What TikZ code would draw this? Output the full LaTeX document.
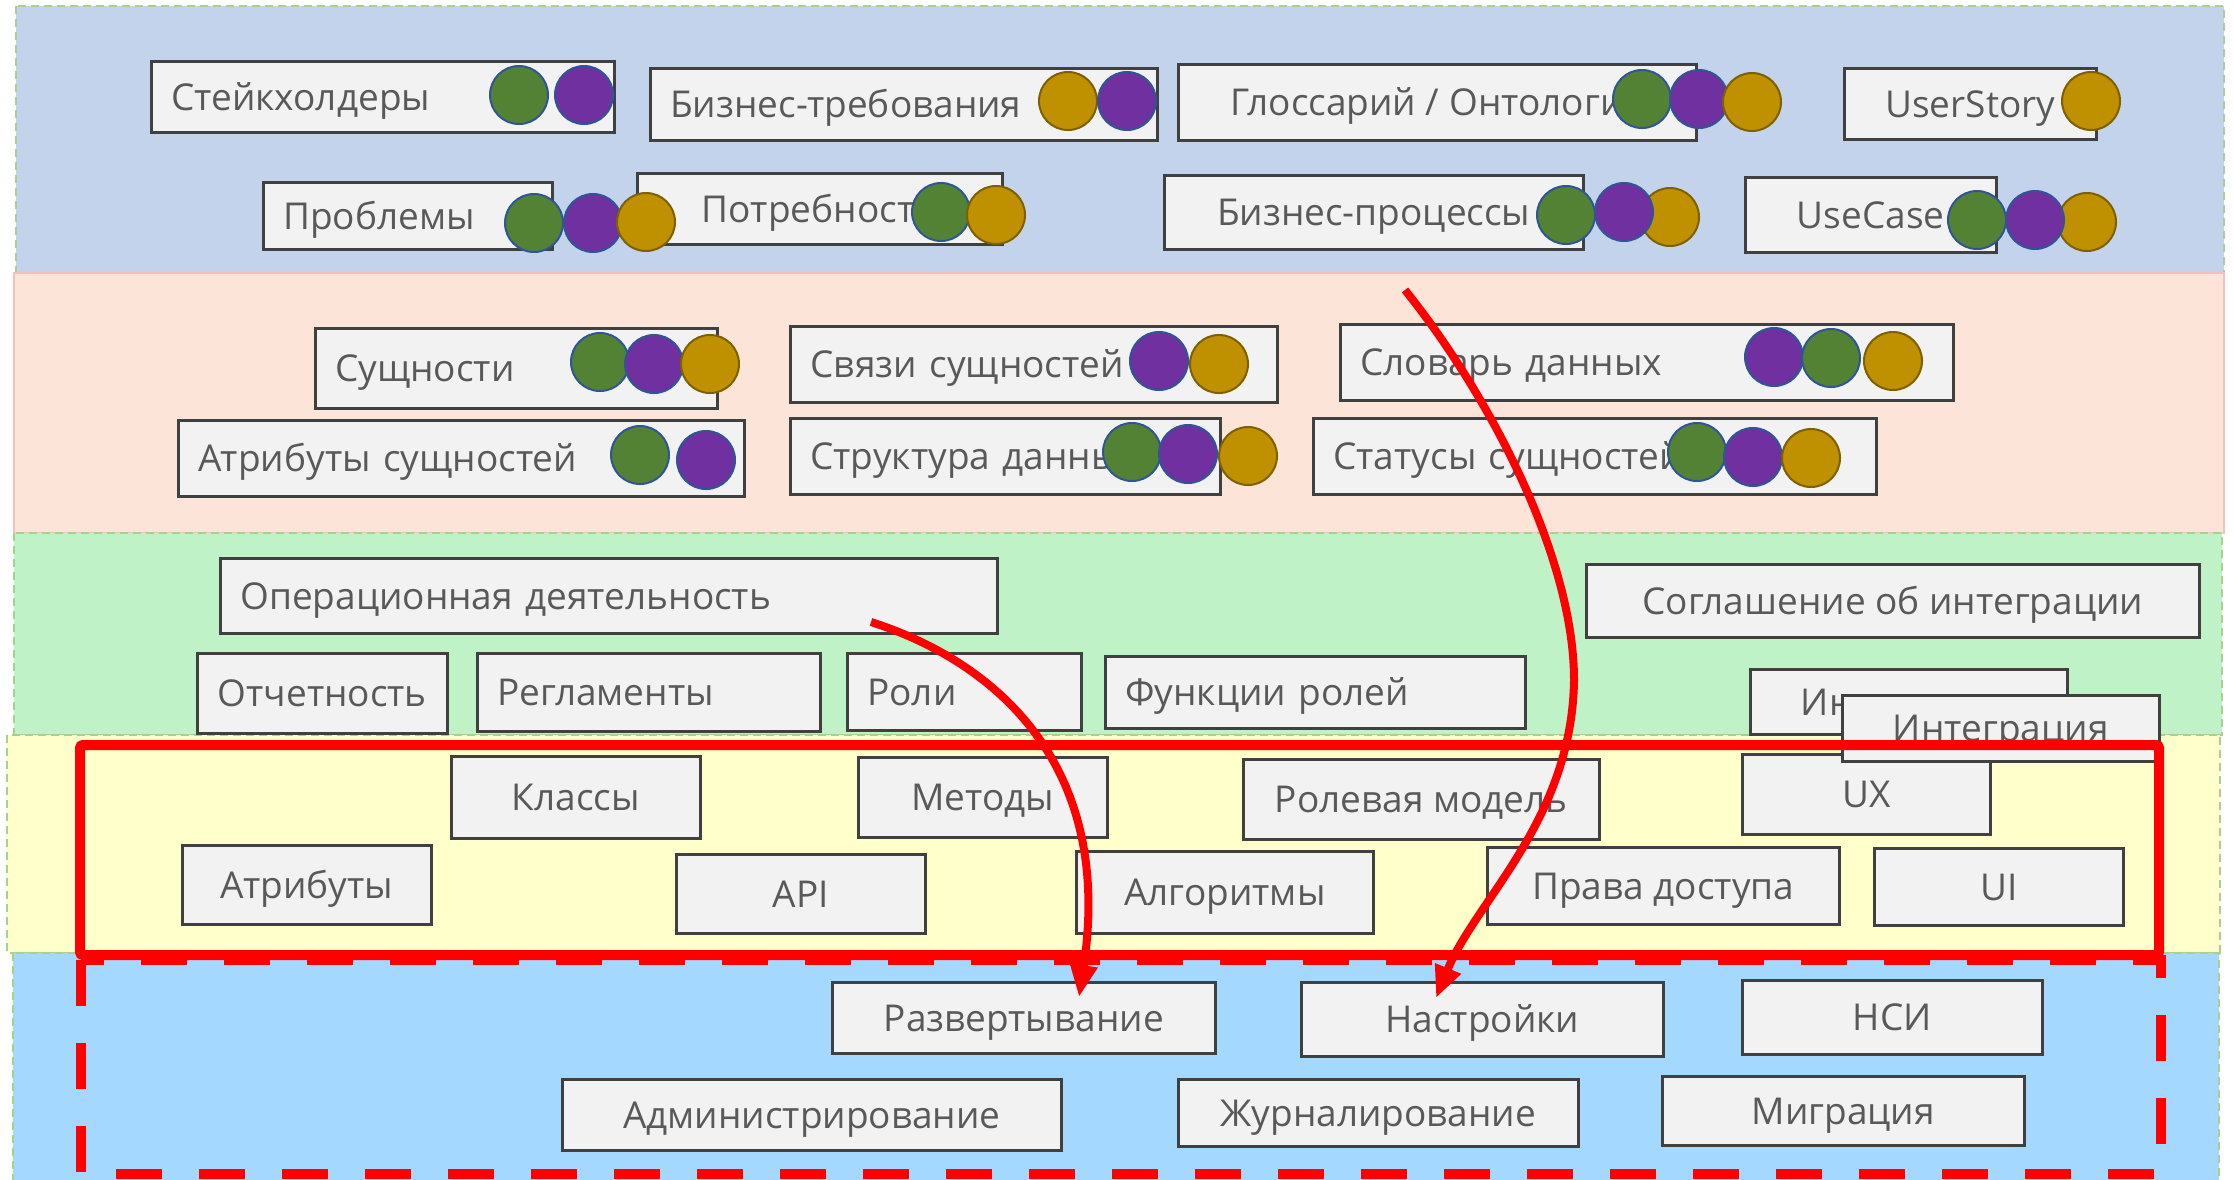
\documentclass[tikz,border=0pt]{standalone}
\usepackage{fontspec}
\newfontfamily\boxfont{Open Sans}
\usetikzlibrary{arrows.meta}

\definecolor{bandblue}{HTML}{C3D3EC}
\definecolor{bandpeach}{HTML}{FCE5D8}
\definecolor{bandgreen}{HTML}{C0F2C8}
\definecolor{bandyellow}{HTML}{FFFFCC}
\definecolor{bandsky}{HTML}{A4D8FF}
\definecolor{bandedge}{HTML}{A9D18E}
\definecolor{peachedge}{HTML}{F4C0C0}
\definecolor{boxfill}{HTML}{F2F2F2}
\definecolor{boxline}{HTML}{404040}
\definecolor{boxtext}{HTML}{595959}
\definecolor{dotgreen}{HTML}{548235}
\definecolor{dotpurple}{HTML}{7030A0}
\definecolor{dotgold}{HTML}{BF9000}
\definecolor{dotedge}{HTML}{2F5597}
\definecolor{goldedge}{HTML}{7F6000}

\tikzset{
  band/.style={draw=bandedge, line width=2pt, dash pattern=on 8pt off 5pt},
  box/.style={draw=boxline, fill=boxfill, text=boxtext, line width=2.5pt,
    inner xsep=20pt, inner ysep=0pt, font=\boxfont\fontsize{37}{41}\selectfont,
    text height=27pt, text depth=0pt, anchor=north west},
  lbox/.style 2 args={box, text width=#1, minimum height=#2, align=left},
  cbox/.style 2 args={box, minimum width=#1, minimum height=#2},
  dot/.style={circle, inner sep=0pt, minimum size=58pt, line width=2pt},
  gdot/.style={dot, fill=dotgreen, draw=dotedge},
  pdot/.style={dot, fill=dotpurple, draw=dotedge},
  odot/.style={dot, fill=dotgold, draw=goldedge},
  flow/.style={draw=red, line width=8pt, -{Triangle[length=32pt,width=26pt]}}
}

\begin{document}
\begin{tikzpicture}[x=1pt,y=-1pt]
\useasboundingbox (0,0) rectangle (2234,1179);

% layers
\draw[band, fill=bandblue] (16,6) rectangle (2224,273);
\draw[draw=peachedge, line width=1.5pt, fill=bandpeach] (14,273) rectangle (2224,533);
\draw[band, fill=bandgreen] (14,533) rectangle (2222,735);
\draw[band, fill=bandyellow] (7,735) rectangle (2220,953);
\draw[band, fill=bandsky] (13,953) rectangle (2219,1190);

% business layer
\node[lbox={423pt}{71pt}] (stake) at (150,60) {Стейкхолдеры};
\node[lbox={467pt}{72pt}] (bizreq) at (649,67) {Бизнес-требования};
\node[cbox={518pt}{76pt}] (gloss) at (1177,63) {Глоссарий / Онтология};
\node[cbox={252pt}{71pt}] (ustory) at (1843,67) {UserStory};
\node[lbox={249pt}{67pt}] (probl) at (262,181) {Проблемы};
\node[cbox={365pt}{71pt}] (needs) at (636,172) {Потребности};
\node[cbox={419pt}{74pt}] (bproc) at (1163,174) {Бизнес-процессы};
\node[cbox={251pt}{75pt}] (ucase) at (1744,176) {UseCase};

% data layer
\node[lbox={362pt}{80pt}] (ent) at (314,327) {Сущности};
\node[lbox={526pt}{76pt}] (entattr) at (177,419) {Атрибуты сущностей};
\node[lbox={447pt}{76pt}] (links) at (789,325) {Связи сущностей};
\node[lbox={390pt}{76pt}] (struct) at (789,417) {Структура данных};
\node[lbox={573pt}{76pt}] (dict) at (1339,323) {Словарь данных};
\node[lbox={523pt}{76pt}] (status) at (1312,417) {Статусы сущностей};

% operations layer
\node[lbox={737pt}{75pt}] (oper) at (219,557) {Операционная деятельность};
\node[cbox={250pt}{80pt}] (report) at (196,652) {Отчетность};
\node[lbox={303pt}{78pt}] (regl) at (476,652) {Регламенты};
\node[lbox={194pt}{77pt}] (roles) at (846,652) {Роли};
\node[lbox={380pt}{72pt}] (rolefn) at (1104,655) {Функции ролей};
\node[cbox={613pt}{73pt}] (agree) at (1585,563) {Соглашение об интеграции};
\node[cbox={317pt}{65pt}] (integA) at (1749,668) {Интеграция};

% application layer
\node[cbox={249pt}{82pt}] (classes) at (450,755) {Классы};
\node[cbox={249pt}{80pt}] (methods) at (857,756) {Методы};
\node[cbox={249pt}{79pt}] (attrs) at (181,844) {Атрибуты};
\node[cbox={249pt}{79pt}] (api) at (675,853) {API};
\node[cbox={297pt}{82pt}] (algo) at (1075,850) {Алгоритмы};
\node[cbox={356pt}{80pt}] (rolemod) at (1242,758) {Ролевая модель};
\node[cbox={248pt}{80pt}] (ux) at (1741,753) {UX};
\node[cbox={352pt}{77pt}] (rights) at (1486,846) {Права доступа};
\node[cbox={249pt}{77pt}] (ui) at (1873,847) {UI};
\node[cbox={317pt}{66pt}] (integB) at (1841,694) {Интеграция};

% infrastructure layer
\node[cbox={383pt}{71pt}] (deploy) at (831,981) {Развертывание};
\node[cbox={499pt}{71pt}] (admin) at (561,1078) {Администрирование};
\node[cbox={362pt}{74pt}] (settings) at (1300,981) {Настройки};
\node[cbox={300pt}{74pt}] (nsi) at (1741,979) {НСИ};
\node[cbox={400pt}{67pt}] (journal) at (1177,1078) {Журналирование};
\node[cbox={362pt}{69pt}] (migr) at (1661,1075) {Миграция};

% markers
\node[gdot] (stake-g) at (519,95) {};
\node[pdot] (stake-p) at (584,95) {};
\node[odot] (bizreq-o) at (1068,101) {};
\node[pdot] (bizreq-p) at (1127,101) {};
\node[gdot] (gloss-g) at (1642,99) {};
\node[pdot] (gloss-p) at (1699,99) {};
\node[odot] (gloss-o) at (1752,102) {};
\node[odot] (ustory-o) at (2091,101) {};
\node[gdot] (probl-g) at (534,223) {};
\node[pdot] (probl-p) at (593,223) {};
\node[odot] (probl-o) at (646,222) {};
\node[gdot] (needs-g) at (941,212) {};
\node[odot] (needs-o) at (996,215) {};
\node[odot] (bproc-o) at (1670,217) {};
\node[pdot] (bproc-p) at (1624,212) {};
\node[gdot] (bproc-g) at (1566,215) {};
\node[odot] (ucase-o) at (2087,222) {};
\node[pdot] (ucase-p) at (2035,220) {};
\node[gdot] (ucase-g) at (1977,220) {};
\node[gdot] (ent-g) at (600,362) {};
\node[pdot] (ent-p) at (654,364) {};
\node[odot] (ent-o) at (710,364) {};
\node[gdot] (entattr-g) at (640,455) {};
\node[pdot] (entattr-p) at (706,460) {};
\node[pdot] (links-p) at (1159,361) {};
\node[odot] (links-o) at (1219,364) {};
\node[gdot] (struct-g) at (1132,452) {};
\node[pdot] (struct-p) at (1188,454) {};
\node[odot] (struct-o) at (1248,456) {};
\node[pdot] (dict-p) at (1774,357) {};
\node[gdot] (dict-g) at (1831,358) {};
\node[odot] (dict-o) at (1893,361) {};
\node[gdot] (status-g) at (1697,452) {};
\node[pdot] (status-p) at (1753,457) {};
\node[odot] (status-o) at (1811,458) {};

% frames
\draw[red, line width=10pt, dash pattern=on 46pt off 37pt] (81,960) rectangle (2161,1174);
\draw[red, line width=10pt, rounded corners=3pt] (80,745) rectangle (2159,955);

% arrows
\coordinate (oper-src) at (871,622);
\coordinate (deploy-in) at (1079,997);
\draw[flow] (oper-src) .. controls (990,660) and (1115,760) .. (deploy-in);
\coordinate (dict-src) at (1405,290);
\coordinate (bend) at (1574,680);
\coordinate (settings-in) at (1436,998);
\draw[flow] (dict-src) .. controls (1493,400) and (1574,560) .. (bend)
  .. controls (1572,820) and (1476,900) .. (settings-in);

\end{tikzpicture}
\end{document}
